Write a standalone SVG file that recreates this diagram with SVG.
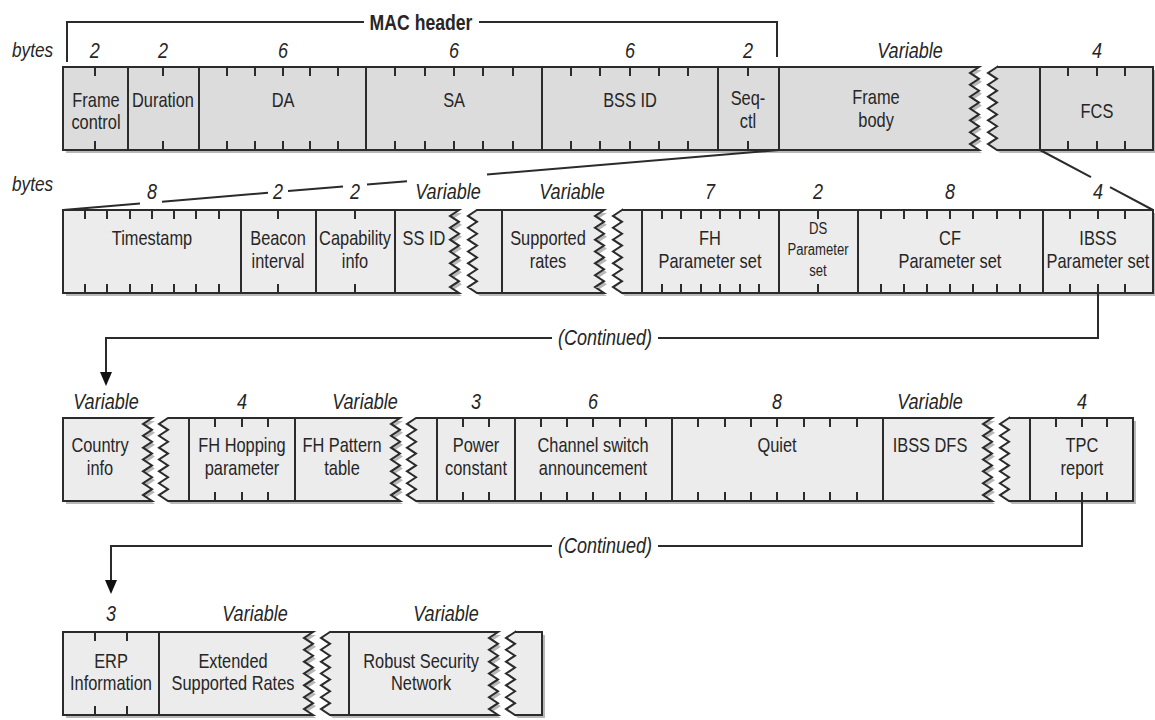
<svg xmlns="http://www.w3.org/2000/svg" xmlns:xlink="http://www.w3.org/1999/xlink" width="1155" height="720" viewBox="0 0 1155 720">
<style>
.t{font-family:"Liberation Sans",Arial,sans-serif;font-size:20px;fill:#262626;text-anchor:middle;transform-box:fill-box;transform-origin:center;transform:scaleX(0.82)}
.s{font-size:16px}
.n{font-style:italic;font-size:22px}
.b{font-weight:bold;font-size:21.5px}
.l{text-anchor:start;transform-origin:left center;font-size:21px}
.sh{fill:#b8b8b8;stroke:none}
.f1{fill:#dcdcdc;stroke:#2b2b2b;stroke-width:2}
.f2{fill:#ececec;stroke:#2b2b2b;stroke-width:2}
.ln{fill:none;stroke:#2b2b2b;stroke-width:2}
.tk{fill:none;stroke:#2b2b2b;stroke-width:2}
.ar{fill:#111}
</style>
<defs>
<path id="r1a" d="M63,67H979l-9 5.929 9 5.929 -9 5.929 9 5.929 -9 5.929 9 5.929 -9 5.929 9 5.929 -9 5.929 9 5.929 -9 5.929 9 5.929 -9 5.929 9 5.929H63Z"/>
<path id="r1b" d="M997,67H1153V150H997l-9 -5.929 9 -5.929 -9 -5.929 9 -5.929 -9 -5.929 9 -5.929 -9 -5.929 9 -5.929 -9 -5.929 9 -5.929 -9 -5.929 9 -5.929 -9 -5.929 9 -5.929Z"/>
<path id="r2a" d="M63,210H459l-9 5.929 9 5.929 -9 5.929 9 5.929 -9 5.929 9 5.929 -9 5.929 9 5.929 -9 5.929 9 5.929 -9 5.929 9 5.929 -9 5.929 9 5.929H63Z"/>
<path id="r2b" d="M477,210H604l-9 5.929 9 5.929 -9 5.929 9 5.929 -9 5.929 9 5.929 -9 5.929 9 5.929 -9 5.929 9 5.929 -9 5.929 9 5.929 -9 5.929 9 5.929H477l-9 -5.929 9 -5.929 -9 -5.929 9 -5.929 -9 -5.929 9 -5.929 -9 -5.929 9 -5.929 -9 -5.929 9 -5.929 -9 -5.929 9 -5.929 -9 -5.929 9 -5.929Z"/>
<path id="r2c" d="M622,210H1153V293H622l-9 -5.929 9 -5.929 -9 -5.929 9 -5.929 -9 -5.929 9 -5.929 -9 -5.929 9 -5.929 -9 -5.929 9 -5.929 -9 -5.929 9 -5.929 -9 -5.929 9 -5.929Z"/>
<path id="r3a" d="M63,418H152l-9 5.929 9 5.929 -9 5.929 9 5.929 -9 5.929 9 5.929 -9 5.929 9 5.929 -9 5.929 9 5.929 -9 5.929 9 5.929 -9 5.929 9 5.929H63Z"/>
<path id="r3b" d="M168,418H400l-9 5.929 9 5.929 -9 5.929 9 5.929 -9 5.929 9 5.929 -9 5.929 9 5.929 -9 5.929 9 5.929 -9 5.929 9 5.929 -9 5.929 9 5.929H168l-9 -5.929 9 -5.929 -9 -5.929 9 -5.929 -9 -5.929 9 -5.929 -9 -5.929 9 -5.929 -9 -5.929 9 -5.929 -9 -5.929 9 -5.929 -9 -5.929 9 -5.929Z"/>
<path id="r3c" d="M416,418H992l-9 5.929 9 5.929 -9 5.929 9 5.929 -9 5.929 9 5.929 -9 5.929 9 5.929 -9 5.929 9 5.929 -9 5.929 9 5.929 -9 5.929 9 5.929H416l-9 -5.929 9 -5.929 -9 -5.929 9 -5.929 -9 -5.929 9 -5.929 -9 -5.929 9 -5.929 -9 -5.929 9 -5.929 -9 -5.929 9 -5.929 -9 -5.929 9 -5.929Z"/>
<path id="r3d" d="M1009,418H1133V501H1009l-9 -5.929 9 -5.929 -9 -5.929 9 -5.929 -9 -5.929 9 -5.929 -9 -5.929 9 -5.929 -9 -5.929 9 -5.929 -9 -5.929 9 -5.929 -9 -5.929 9 -5.929Z"/>
<path id="r4a" d="M63,632H313l-9 5.929 9 5.929 -9 5.929 9 5.929 -9 5.929 9 5.929 -9 5.929 9 5.929 -9 5.929 9 5.929 -9 5.929 9 5.929 -9 5.929 9 5.929H63Z"/>
<path id="r4b" d="M330,632H498l-9 5.929 9 5.929 -9 5.929 9 5.929 -9 5.929 9 5.929 -9 5.929 9 5.929 -9 5.929 9 5.929 -9 5.929 9 5.929 -9 5.929 9 5.929H330l-9 -5.929 9 -5.929 -9 -5.929 9 -5.929 -9 -5.929 9 -5.929 -9 -5.929 9 -5.929 -9 -5.929 9 -5.929 -9 -5.929 9 -5.929 -9 -5.929 9 -5.929Z"/>
<path id="r4c" d="M515,632H542V715H515l-9 -5.929 9 -5.929 -9 -5.929 9 -5.929 -9 -5.929 9 -5.929 -9 -5.929 9 -5.929 -9 -5.929 9 -5.929 -9 -5.929 9 -5.929 -9 -5.929 9 -5.929Z"/>
</defs>

<g id="row1">
<use xlink:href="#r1a" class="sh" transform="translate(3,3)"/>
<use xlink:href="#r1b" class="sh" transform="translate(3,3)"/>
<use xlink:href="#r1a" class="f1"/>
<use xlink:href="#r1b" class="f1"/>
<path class="ln" d="M128,67V150M199,67V150M366,67V150M542,67V150M718,67V150M779,67V150M1040,67V150"/>
<path class="tk" d="M95,67v9M95,150v-9M163,67v9M163,150v-9M227,67v9M227,150v-9M255,67v9M255,150v-9M283,67v9M283,150v-9M310,67v9M310,150v-9M338,67v9M338,150v-9M395,67v9M395,150v-9M425,67v9M425,150v-9M454,67v9M454,150v-9M483,67v9M483,150v-9M513,67v9M513,150v-9M571,67v9M571,150v-9M600,67v9M600,150v-9M630,67v9M630,150v-9M659,67v9M659,150v-9M688,67v9M688,150v-9M748,67v9M748,150v-9M1068,67v9M1068,150v-9M1097,67v9M1097,150v-9M1125,67v9M1125,150v-9"/>
<text class="t n l" x="12" y="57">bytes</text>
</g>
<g id="frame-control"><text class="t n" x="95" y="58">2</text><text class="t" x="96" y="107">Frame</text><text class="t" x="96" y="129">control</text></g>
<g id="duration"><text class="t n" x="163" y="58">2</text><text class="t" x="163" y="107">Duration</text></g>
<g id="da"><text class="t n" x="283" y="58">6</text><text class="t" x="283" y="107">DA</text></g>
<g id="sa"><text class="t n" x="454" y="58">6</text><text class="t" x="454" y="107">SA</text></g>
<g id="bssid"><text class="t n" x="630" y="58">6</text><text class="t" x="630" y="107">BSS ID</text></g>
<g id="seqctl"><text class="t n" x="748" y="58">2</text><text class="t" x="748" y="105">Seq-</text><text class="t" x="748" y="128">ctl</text></g>
<g id="frame-body"><text class="t n" x="910" y="58">Variable</text><text class="t" x="876" y="104">Frame</text><text class="t" x="876" y="127">body</text></g>
<g id="fcs"><text class="t n" x="1097" y="58">4</text><text class="t" x="1097" y="118">FCS</text></g>

<g id="row2">
<use xlink:href="#r2a" class="sh" transform="translate(3,3)"/>
<use xlink:href="#r2b" class="sh" transform="translate(3,3)"/>
<use xlink:href="#r2c" class="sh" transform="translate(3,3)"/>
<use xlink:href="#r2a" class="f2"/>
<use xlink:href="#r2b" class="f2"/>
<use xlink:href="#r2c" class="f2"/>
<path class="ln" d="M241,210V293M316,210V293M395,210V293M502,210V293M642,210V293M779,210V293M858,210V293M1043,210V293"/>
<path class="tk" d="M85,210v9M85,293v-9M107,210v9M107,293v-9M130,210v9M130,293v-9M152,210v9M152,293v-9M174,210v9M174,293v-9M196,210v9M196,293v-9M219,210v9M219,293v-9M278,210v9M278,293v-9M355,210v9M355,293v-9M662,210v9M662,293v-9M681,210v9M681,293v-9M701,210v9M701,293v-9M720,210v9M720,293v-9M740,210v9M740,293v-9M759,210v9M759,293v-9M818,210v9M818,293v-9M881,210v9M881,293v-9M904,210v9M904,293v-9M927,210v9M927,293v-9M950,210v9M950,293v-9M973,210v9M973,293v-9M997,210v9M997,293v-9M1020,210v9M1020,293v-9M1070,210v9M1070,293v-9M1098,210v9M1098,293v-9M1125,210v9M1125,293v-9"/>
<text class="t n l" x="12" y="191">bytes</text>
</g>
<g id="timestamp"><text class="t n" x="152" y="199">8</text><text class="t" x="152" y="245">Timestamp</text></g>
<g id="beacon-interval"><text class="t n" x="278" y="199">2</text><text class="t" x="278" y="245">Beacon</text><text class="t" x="278" y="268">interval</text></g>
<g id="capability-info"><text class="t n" x="355" y="199">2</text><text class="t" x="355" y="245">Capability</text><text class="t" x="355" y="268">info</text></g>
<g id="ssid"><text class="t n" x="448" y="199">Variable</text><text class="t" x="424" y="245">SS ID</text></g>
<g id="supported-rates"><text class="t n" x="572" y="199">Variable</text><text class="t" x="548" y="245">Supported</text><text class="t" x="548" y="268">rates</text></g>
<g id="fh-param"><text class="t n" x="710" y="199">7</text><text class="t" x="710" y="245">FH</text><text class="t" x="710" y="268">Parameter set</text></g>
<g id="ds-param"><text class="t n" x="818" y="199">2</text><text class="t s" x="818" y="234">DS</text><text class="t s" x="818" y="255">Parameter</text><text class="t s" x="818" y="276">set</text></g>
<g id="cf-param"><text class="t n" x="950" y="199">8</text><text class="t" x="950" y="245">CF</text><text class="t" x="950" y="268">Parameter set</text></g>
<g id="ibss-param"><text class="t n" x="1098" y="199">4</text><text class="t" x="1098" y="245">IBSS</text><text class="t" x="1098" y="268">Parameter set</text></g>

<g id="row3">
<use xlink:href="#r3a" class="sh" transform="translate(3,3)"/>
<use xlink:href="#r3b" class="sh" transform="translate(3,3)"/>
<use xlink:href="#r3c" class="sh" transform="translate(3,3)"/>
<use xlink:href="#r3d" class="sh" transform="translate(3,3)"/>
<use xlink:href="#r3a" class="f2"/>
<use xlink:href="#r3b" class="f2"/>
<use xlink:href="#r3c" class="f2"/>
<use xlink:href="#r3d" class="f2"/>
<path class="ln" d="M189,418V501M295,418V501M437,418V501M515,418V501M672,418V501M883,418V501M1030,418V501"/>
<path class="tk" d="M215,418v9M215,501v-9M242,418v9M242,501v-9M268,418v9M268,501v-9M463,418v9M463,501v-9M489,418v9M489,501v-9M541,418v9M541,501v-9M567,418v9M567,501v-9M593,418v9M593,501v-9M620,418v9M620,501v-9M646,418v9M646,501v-9M698,418v9M698,501v-9M725,418v9M725,501v-9M751,418v9M751,501v-9M777,418v9M777,501v-9M804,418v9M804,501v-9M830,418v9M830,501v-9M857,418v9M857,501v-9M1056,418v9M1056,501v-9M1082,418v9M1082,501v-9M1107,418v9M1107,501v-9"/>
</g>
<g id="country-info"><text class="t n" x="106" y="409">Variable</text><text class="t" x="100" y="452">Country</text><text class="t" x="100" y="475">info</text></g>
<g id="fh-hopping"><text class="t n" x="242" y="409">4</text><text class="t" x="242" y="452">FH Hopping</text><text class="t" x="242" y="475">parameter</text></g>
<g id="fh-pattern"><text class="t n" x="365" y="409">Variable</text><text class="t" x="342" y="452">FH Pattern</text><text class="t" x="342" y="475">table</text></g>
<g id="power-constant"><text class="t n" x="476" y="409">3</text><text class="t" x="476" y="452">Power</text><text class="t" x="476" y="475">constant</text></g>
<g id="channel-switch"><text class="t n" x="593" y="409">6</text><text class="t" x="593" y="452">Channel switch</text><text class="t" x="593" y="475">announcement</text></g>
<g id="quiet"><text class="t n" x="777" y="409">8</text><text class="t" x="777" y="452">Quiet</text></g>
<g id="ibss-dfs"><text class="t n" x="930" y="409">Variable</text><text class="t" x="930" y="452">IBSS DFS</text></g>
<g id="tpc-report"><text class="t n" x="1082" y="409">4</text><text class="t" x="1082" y="452">TPC</text><text class="t" x="1082" y="475">report</text></g>

<g id="row4">
<use xlink:href="#r4a" class="sh" transform="translate(3,3)"/>
<use xlink:href="#r4b" class="sh" transform="translate(3,3)"/>
<use xlink:href="#r4c" class="sh" transform="translate(3,3)"/>
<use xlink:href="#r4a" class="f2"/>
<use xlink:href="#r4b" class="f2"/>
<use xlink:href="#r4c" class="f2"/>
<path class="ln" d="M159,632V715M349,632V715"/>
<path class="tk" d="M95,632v9M95,715v-9M127,632v9M127,715v-9"/>
</g>
<g id="erp-info"><text class="t n" x="111" y="621">3</text><text class="t" x="111" y="668">ERP</text><text class="t" x="111" y="690">Information</text></g>
<g id="ext-rates"><text class="t n" x="255" y="621">Variable</text><text class="t" x="233" y="668">Extended</text><text class="t" x="233" y="690">Supported Rates</text></g>
<g id="rsn"><text class="t n" x="446" y="621">Variable</text><text class="t" x="421" y="668">Robust Security</text><text class="t" x="421" y="690">Network</text></g>

<g id="connectors">
<path class="ln" d="M67,62V22H364M479,22H777V57"/>
<text class="t b" x="421" y="30">MAC header</text>
<path class="ln" d="M63,210L140,203.5M162,201.7L268,192.8M288,191.1L343,186.5M367,184.5L407,181.2M487,174.5L779,150"/>
<path class="ln" d="M1040,150L1091,177.1M1110,187.2L1153,210"/>
<path class="ln" d="M1098,293V338H658M552,338H106V374"/>
<polygon class="ar" points="100,372 112,372 106,386"/>
<text class="t n" x="605" y="345">(Continued)</text>
<path class="ln" d="M1082,501V546H658M552,546H111V582"/>
<polygon class="ar" points="105,580 117,580 111,594"/>
<text class="t n" x="605" y="553">(Continued)</text>
</g>
</svg>
